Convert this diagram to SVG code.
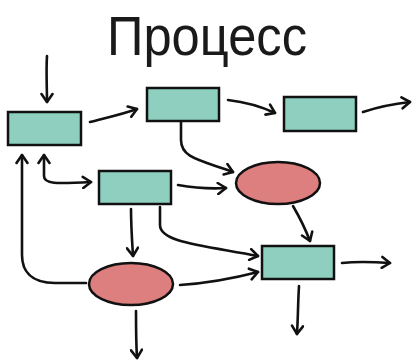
<svg xmlns="http://www.w3.org/2000/svg" width="413" height="361" viewBox="0 0 413 361">
<style>
.box{fill:#8ecfc0;stroke:#111;stroke-width:2.5}
.ell{fill:#dc7f7e;stroke:#111;stroke-width:2.5}
.c{fill:none;stroke:#111;stroke-width:2.6;stroke-linecap:round;stroke-linejoin:round}
.title{font-family:"Liberation Sans",Arial,sans-serif;font-size:56px;fill:#1a1a1a}
</style>
<defs>
<marker id="ah" markerUnits="userSpaceOnUse" markerWidth="14" markerHeight="14" refX="10" refY="7" orient="auto-start-reverse">
<path d="M2,1.5 L10,7 L2,12.5" fill="none" stroke="#111" stroke-width="2.6" stroke-linecap="round" stroke-linejoin="round"/>
</marker>
</defs>
<rect width="413" height="361" fill="#fff"/>
<text class="title" x="107" y="55" textLength="200" lengthAdjust="spacingAndGlyphs">Процесс</text>
<g id="connectors">
<path class="c" marker-end="url(#ah)" d="M47,56 C46,70 47,88 47,102"/>
<path class="c" marker-end="url(#ah)" d="M90,122 C105,118 120,115 137,109"/>
<path class="c" marker-end="url(#ah)" d="M228,100 C245,102 260,106 275,113"/>
<path class="c" marker-end="url(#ah)" d="M363,112 C378,107 392,104 410,102"/>
<path class="c" marker-end="url(#ah)" d="M181,121 L181,140 C181,158 200,160 233,172"/>
<path class="c" marker-start="url(#ah)" marker-end="url(#ah)" d="M44,155 L44,176 C44,184 55,184 91,182"/>
<path class="c" marker-end="url(#ah)" d="M178,185 C195,188 210,189 226,188"/>
<path class="c" marker-end="url(#ah)" d="M293,206 C300,218 305,228 310,241"/>
<path class="c" marker-end="url(#ah)" d="M131,209 C131,225 132,240 133,256"/>
<path class="c" marker-end="url(#ah)" d="M160,207 L160,225 C160,242 200,245 258,256"/>
<path class="c" marker-end="url(#ah)" d="M180,285 C210,283 235,278 258,272"/>
<path class="c" marker-end="url(#ah)" d="M342,263 C360,261 375,262 390,263"/>
<path class="c" marker-end="url(#ah)" d="M299,286 C298,302 298,318 297,334"/>
<path class="c" marker-end="url(#ah)" d="M136,311 C136,327 136,342 137,358"/>
<path class="c" marker-end="url(#ah)" d="M86,283 L55,283 C30,283 22,270 22,255 L22,155"/>
</g>
<g id="box1"><rect class="box" x="8" y="112" width="73" height="33"/></g>
<g id="box2"><rect class="box" x="147" y="88" width="72" height="33"/></g>
<g id="box3"><rect class="box" x="284" y="97" width="72" height="34"/></g>
<g id="box4"><rect class="box" x="99" y="171" width="72" height="33"/></g>
<g id="box5"><rect class="box" x="262" y="246" width="72" height="33"/></g>
<g id="ellipse1"><ellipse class="ell" cx="278" cy="183" rx="42" ry="21"/></g>
<g id="ellipse2"><ellipse class="ell" cx="131" cy="284" rx="42" ry="21"/></g>
</svg>
